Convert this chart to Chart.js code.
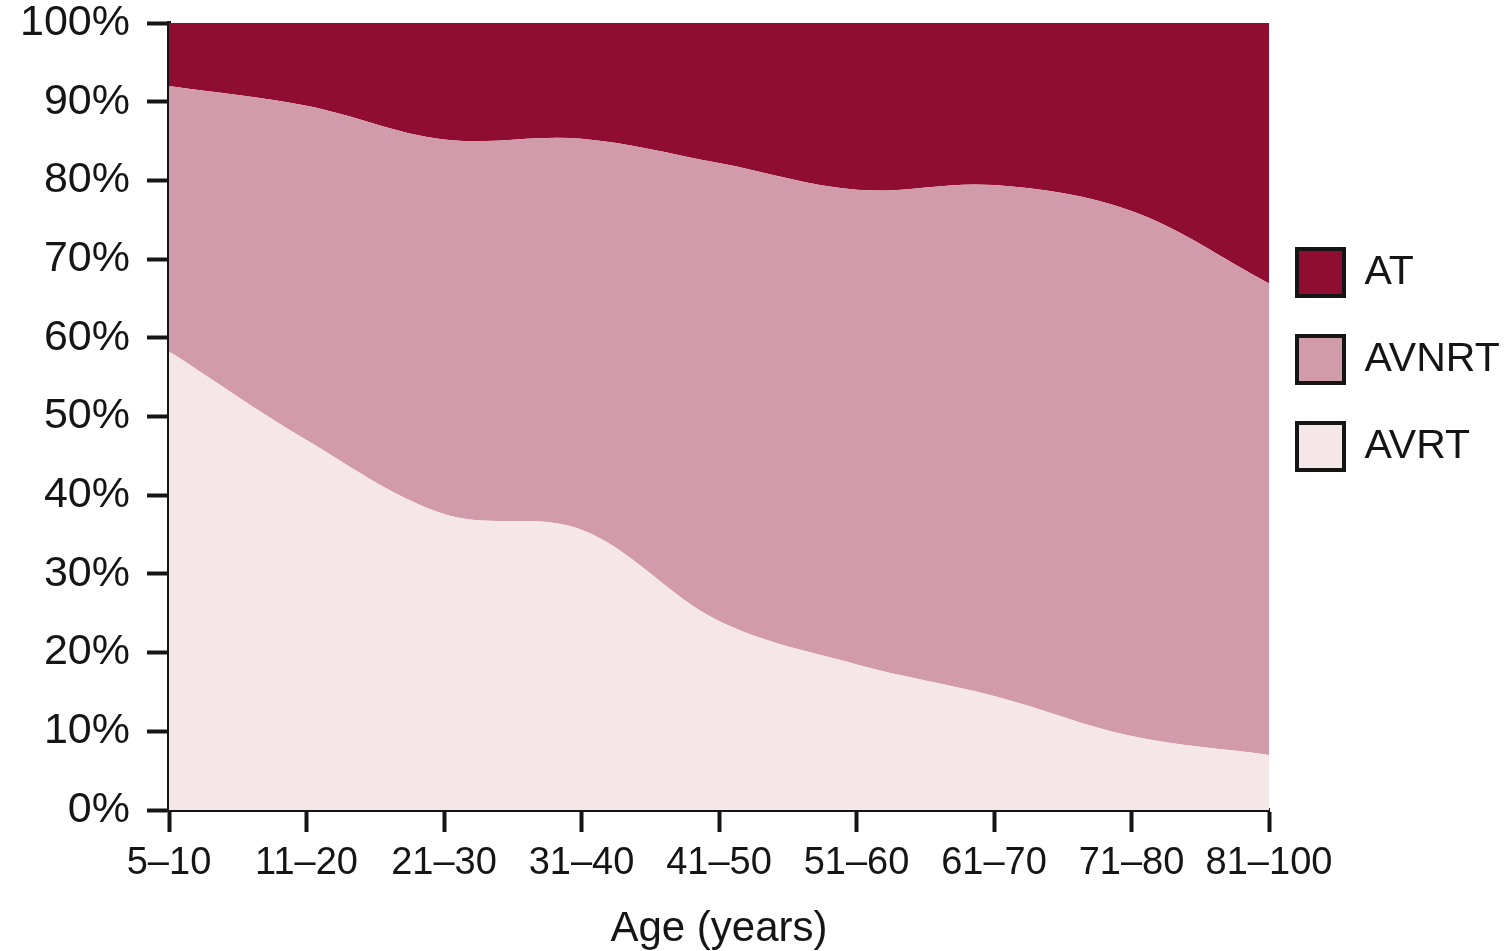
<!DOCTYPE html>
<html>
<head>
<meta charset="utf-8">
<script src="https://cdn.jsdelivr.net/npm/chart.js@4.4.1/dist/chart.umd.min.js"></script>
<style>
html,body{margin:0;padding:0;background:#ffffff;overflow:hidden}
canvas{display:block}
</style>
</head>
<body>
<canvas id="c" width="1512" height="951"></canvas>
<script>
// ---- data (percent of patients per age group) ----
const ageGroups  = ['5–10', '11–20', '21–30', '31–40', '41–50', '51–60', '61–70', '71–80', '81–100'];
const avrtShare  = [58.3, 47.0, 37.6, 35.6, 24.0, 18.5, 14.5, 9.4, 7.0];
const avnrtShare = [33.7, 42.5, 47.6, 49.7, 58.2, 60.3, 64.9, 66.7, 59.9];
const atShare    = [8.0, 10.5, 14.8, 14.7, 17.8, 21.2, 20.6, 23.9, 33.1];
const yTickLabels = ['0%', '10%', '20%', '30%', '40%', '50%', '60%', '70%', '80%', '90%', '100%'];
const seriesNames = ['AVRT', 'AVNRT', 'AT'];

const FONT = '"Liberation Sans", Arial, Helvetica, sans-serif';
const INK = '#151515';
const COLORS = { AVRT: '#F5E7E7', AVNRT: '#D19BAB', AT: '#8F0D31' };

const legendPlacement = {
  id: 'legendPlacement',
  afterLayout(chart) {
    const lg = chart.legend;
    if (!lg) return;
    const pad = lg.options.labels.padding;
    const dx = (chart.chartArea.right + 28 - pad) - lg.left;
    lg.left += dx; lg.right += dx;
    const dy = (chart.chartArea.top + 226 - pad) - lg.top;
    lg.top += dy; lg.bottom += dy;
  }
};

function area(name, values, fill) {
  return {
    label: name,
    data: values,
    backgroundColor: COLORS[name],
    borderColor: 'rgba(0,0,0,0)',
    borderWidth: 0,
    pointRadius: 0,
    pointHoverRadius: 0,
    fill: fill,
    tension: 0.35
  };
}

new Chart(document.getElementById('c'), {
  type: 'line',
  data: {
    labels: ageGroups,
    datasets: [
      area(seriesNames[0], avrtShare, 'origin'),
      area(seriesNames[1], avnrtShare, '-1'),
      area(seriesNames[2], atShare, '-1')
    ]
  },
  plugins: [legendPlacement],
  options: {
    responsive: false,
    animation: false,
    events: [],
    layout: { padding: { top: 23, right: 0, bottom: 0, left: 0 } },
    plugins: {
      tooltip: { enabled: false },
      legend: {
        position: 'right',
        align: 'start',
        reverse: true,
        maxWidth: 243,
        labels: {
          boxWidth: 47,
          boxHeight: 47,
          padding: 40,
          color: INK,
          font: { family: FONT, size: 41 },
          generateLabels(chart) {
            const items = Chart.defaults.plugins.legend.labels.generateLabels(chart);
            items.forEach(it => {
              it.strokeStyle = INK;
              it.lineWidth = 4;
              it.lineDash = [];
              it.lineJoin = 'miter';
            });
            return items;
          }
        }
      }
    },
    scales: {
      x: {
        type: 'category',
        offset: false,
        afterFit(s) { s.height = 141; },
        grid: { drawOnChartArea: false, drawTicks: true, tickLength: 22, tickWidth: 4, tickColor: INK },
        border: { display: true, width: 4, color: INK },
        ticks: { color: INK, font: { family: FONT, size: 38 }, padding: 9, maxRotation: 0, autoSkip: false },
        title: { display: true, text: 'Age (years)', color: INK, font: { family: FONT, size: 42, lineHeight: 1 }, padding: { top: 0, bottom: 1 } }
      },
      y: {
        stacked: true,
        min: 0,
        max: 100,
        afterFit(s) { s.width = 169; s.paddingTop = 0; s.paddingBottom = 0; },
        grid: { drawOnChartArea: false, drawTicks: true, tickLength: 22, tickWidth: 4, tickColor: INK },
        border: { display: true, width: 4, color: INK },
        ticks: {
          stepSize: 10,
          color: INK,
          padding: 17,
          font: { family: FONT, size: 43, lineHeight: 1 },
          callback: (v, i) => yTickLabels[i]
        }
      }
    }
  }
});
</script>
</body>
</html>
